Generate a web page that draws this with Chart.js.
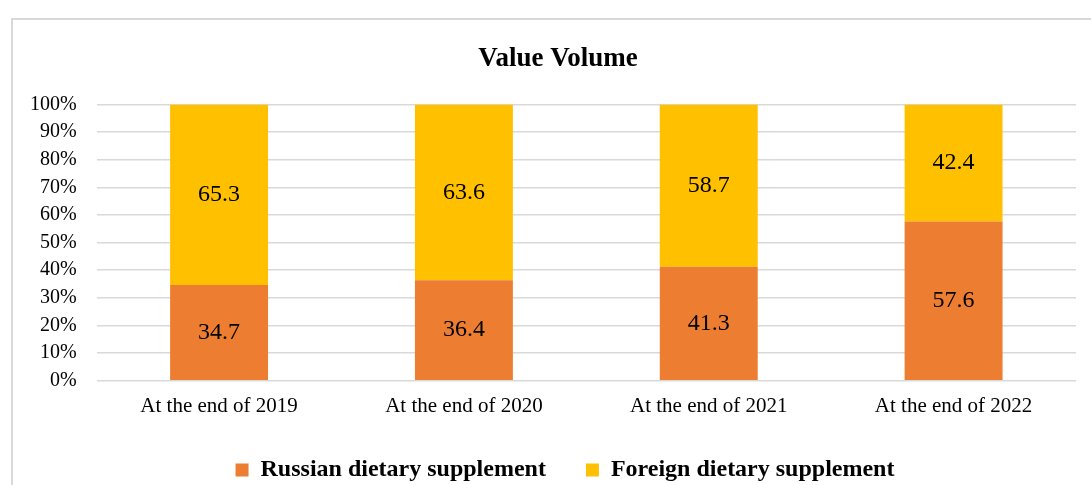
<!DOCTYPE html>
<html>
<head>
<meta charset="utf-8">
<script src="https://cdn.jsdelivr.net/npm/chart.js@4.4.0/dist/chart.umd.min.js"></script>
<style>
  html, body { margin: 0; padding: 0; background: #fff; overflow: hidden; width: 1091px; height: 485px; }
  #box { position: absolute; left: 11px; top: 18px; width: 1100px; height: 500px; border: 2px solid #d9d9d9; box-sizing: border-box; }
  #wrap { position: absolute; left: 10px; top: 20px; width: 1097px; height: 486px; }
</style>
</head>
<body>
<div id="box"></div>
<div id="wrap"><canvas id="c"></canvas></div>
<script>
const categories = ["At the end of 2019", "At the end of 2020", "At the end of 2021", "At the end of 2022"];
const russian = [34.7, 36.4, 41.3, 57.6];
const foreign = [65.3, 63.6, 58.7, 42.4];
const seriesNames = ["Russian dietary supplement", "Foreign dietary supplement"];
const yTicks = [0, 10, 20, 30, 40, 50, 60, 70, 80, 90, 100];

const labelPlugin = {
  id: 'barLabels',
  afterDatasetsDraw(chart) {
    const ctx = chart.ctx;
    ctx.save();
    ctx.font = '24px "Liberation Serif", "Times New Roman", serif';
    ctx.fillStyle = '#000';
    ctx.textAlign = 'center';
    ctx.textBaseline = 'middle';
    chart.data.datasets.forEach((ds, i) => {
      const meta = chart.getDatasetMeta(i);
      meta.data.forEach((bar, j) => {
        const mid = (bar.y + bar.base) / 2;
        ctx.fillText(ds.data[j].toFixed(1), bar.x, mid);
      });
    });
    ctx.restore();
  }
};

const boxShift = {
  id: 'boxShift',
  afterLayout(chart) {
    const lg = chart.legend;
    if (lg) {
      lg.left += 22; lg.right += 22;
      lg.top -= 14; lg.bottom -= 14;
    }
    const tt = chart.titleBlock;
    if (tt) {
      tt.left += 15; tt.right += 15;
    }
  }
};

new Chart(document.getElementById('c'), {
  type: 'bar',
  data: {
    labels: categories,
    datasets: [
      { label: seriesNames[0], data: russian, backgroundColor: '#ED7D31', barPercentage: 0.4, categoryPercentage: 1.0 },
      { label: seriesNames[1], data: foreign, backgroundColor: '#FFC000', barPercentage: 0.4, categoryPercentage: 1.0 }
    ]
  },
  options: {
    responsive: true,
    maintainAspectRatio: false,
    animation: false,
    layout: { padding: { left: 0, right: 31, top: 0, bottom: 0 } },
    plugins: {
      title: {
        display: true,
        text: 'Value Volume',
        color: '#000',
        font: { family: '"Liberation Serif", "Times New Roman", serif', size: 27, weight: 'bold' },
        padding: { top: 23, bottom: 29 }
      },
      legend: {
        position: 'bottom',
        labels: {
          color: '#000',
          font: { family: '"Liberation Serif", "Times New Roman", serif', size: 24, weight: 'bold' },
          boxWidth: 13,
          boxHeight: 13,
          padding: 40
        }
      },
      tooltip: { enabled: false }
    },
    scales: {
      x: {
        stacked: true,
        grid: { display: false, drawTicks: false },
        border: { display: false },
        ticks: {
          color: '#000',
          padding: 13,
          font: { family: '"Liberation Serif", "Times New Roman", serif', size: 21 }
        }
      },
      y: {
        stacked: true,
        min: 0,
        max: 100,
        afterBuildTicks(axis) { axis.ticks = yTicks.map(v => ({ value: v })); },
        grid: { color: '#d9d9d9', lineWidth: 1.5, drawTicks: false },
        border: { display: false },
        ticks: {
          color: '#000',
          padding: 20,
          autoSkip: false,
          font: { family: '"Liberation Serif", "Times New Roman", serif', size: 20 },
          callback: v => v + '%'
        }
      }
    }
  },
  plugins: [labelPlugin, boxShift]
});
</script>
</body>
</html>
